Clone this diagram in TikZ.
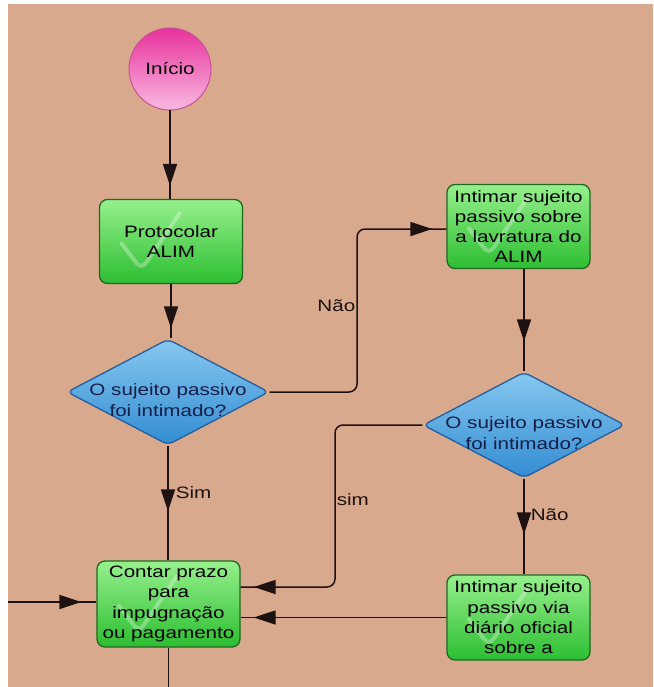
\documentclass[tikz,border=0pt]{standalone}
\usepackage{fontspec}
\newfontfamily\flowfont[FakeStretch=1.25]{Liberation Sans}
\newcommand\flowtext{\flowfont\fontsize{16.5}{20.3}\selectfont}
\usetikzlibrary{shapes.geometric,arrows.meta,positioning,decorations.markings,calc}
\definecolor{bgtan}{RGB}{216,169,140}
\definecolor{linecol}{RGB}{30,18,16}
\definecolor{greentop}{RGB}{150,240,140}
\definecolor{greenbot}{RGB}{45,190,50}
\definecolor{greenedge}{RGB}{30,105,30}
\definecolor{bluetop}{RGB}{135,200,240}
\definecolor{bluebot}{RGB}{50,140,210}
\definecolor{blueedge}{RGB}{35,95,160}
\definecolor{pinktop}{RGB}{232,50,155}
\definecolor{pinkbot}{RGB}{248,185,225}
\definecolor{pinkedge}{RGB}{200,80,150}
\definecolor{qnavy}{RGB}{20,30,70}
\tikzset
{
    startnode/.style = {circle, draw=pinkedge, line width=1pt, top color=pinktop, bottom color=pinkbot, minimum size=82pt, inner sep=0pt, font=\flowtext},
    tasknode/.style  = {rectangle, rounded corners=8pt, draw=greenedge, line width=1.3pt, top color=greentop, bottom color=greenbot, minimum width=143pt, minimum height=84pt, inner sep=0pt, align=center, font=\flowtext,
                        execute at begin node={\rule{0pt}{22pt}},
                        path picture={\draw[white, opacity=0.3, line width=4pt, line cap=round] ($(path picture bounding box.west)+(22,2)$) -- ($(path picture bounding box.west)+(42,28)$) -- ($(path picture bounding box.west)+(80,-28)$);}},
    decision/.style  = {diamond, rounded corners=6pt, draw=blueedge, line width=1.3pt, top color=bluetop, bottom color=bluebot, minimum width=202pt, minimum height=106pt, inner sep=0pt},
    qtext/.style     = {align=center, font=\flowtext, text=qnavy, yshift=-8pt},
    flow/.style      = {decoration={markings, mark=at position #1 with {\arrow{Triangle[length=22pt,width=14pt]}}}, postaction={decorate}},
    answer/.style    = {font=\flowtext, text=linecol, inner sep=1pt}
}
\begin{document}
\begin{tikzpicture}[x=1pt,y=-1pt,line width=1.5pt,draw=linecol]
\useasboundingbox (0,0) rectangle (653,687);
\fill[bgtan] (8,4) rectangle (653,687);

% nodes
\node [startnode] at (170,69) (start) {Início};
\node [tasknode] at (171,241.5) (proto) {Protocolar\\ALIM};
\node [decision, label={[qtext]center:O sujeito passivo\\foi intimado?}] at (168,392) (q1) {};
\node [tasknode] at (518.5,226.5) (intim) {Intimar sujeito\\passivo sobre\\a lavratura do\\ALIM};
\node [decision, label={[qtext]center:O sujeito passivo\\foi intimado?}] at (524,425) (q2) {};
\node [tasknode, minimum height=86pt] at (168.5,604) (contar) {Contar prazo\\para\\impugnação\\ou pagamento};
\node [tasknode, minimum height=85pt] at (518.5,617.5) (diario) {Intimar sujeito\\passivo via\\diário oficial\\sobre a};

\coordinate (bendA) at (357,229);
\coordinate (bendB) at (335,587);
\coordinate (inlet) at (8,602);
\coordinate (outlet) at (170,687);

% connectors
\draw [flow=-13pt] (start.south) -- (start.south |- proto.north);
\draw [flow=-10pt] (proto.south) -- (proto.south |- q1.north);
\draw [flow=-14pt, rounded corners=8pt] (q1.east) -- (q1.east -| bendA) -- node[answer, pos=0.53, left] {Não} (bendA) -- (bendA -| intim.west);
\draw [flow=-30pt] (q2.north |- intim.south) -- (q2.north);
\draw [flow=-49pt] (q1.south) -- node[answer, pos=0.41, right=6pt] {Sim} (q1.south |- contar.north);
\draw [flow=-40pt] (q2.south) -- node[answer, pos=0.375, right=5pt] {Não} (q2.south |- diario.north);
\draw [flow=-13pt, rounded corners=8pt] (q2.west) -- (q2.west -| bendB) -- node[answer, pos=0.46, right] {sim} (bendB) -- (bendB -| contar.east);
\draw [flow=-13pt] (diario.west) -- (diario.west -| contar.east);
\draw [flow=-15pt] (inlet) -- (inlet -| contar.west);
\draw (contar.south) -- (contar.south |- outlet);
\end{tikzpicture}
\end{document}
